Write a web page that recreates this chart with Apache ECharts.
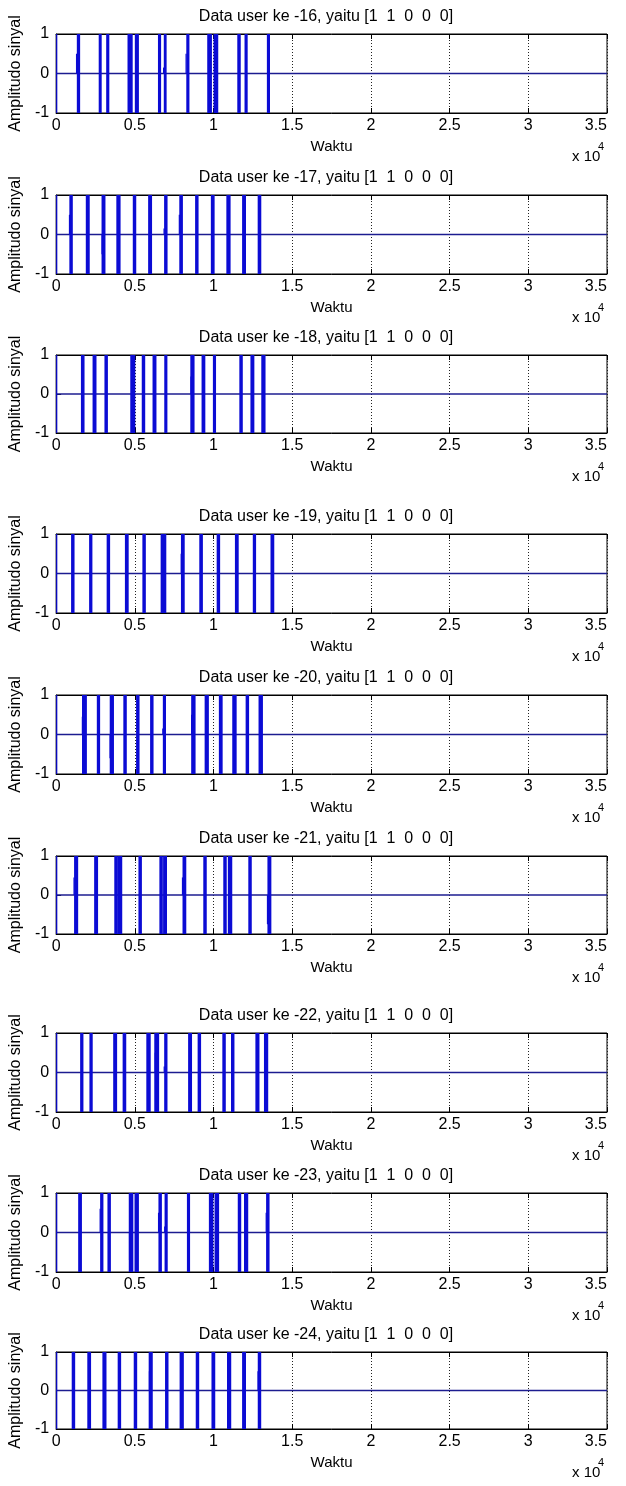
<!DOCTYPE html>
<html><head><meta charset="utf-8">
<script src="https://cdn.jsdelivr.net/npm/echarts@6/dist/echarts.min.js"></script>
<style>html,body{margin:0;padding:0;background:#fff}#c{width:626px;height:1486px}</style>
</head><body><div id="c"></div>
<script>
// ---- data ----
const userIds = [16, 17, 18, 19, 20, 21, 22, 23, 24];
const userBits = '[1  1  0  0  0]';
const xMin = 0, xMax = 35000, xStep = 5000, xExp = 4;
const yMin = -1, yMax = 1, yStep = 1;
const baseline = [[0, 0], [35000, 0]];

// bursts: [centre (Waktu), duration]
const burst16 = [[30,60],[1420,210],[2800,190],[3280,200],[4700,330],[5130,260],[6570,200],[6930,180],[8370,200],[9750,300],[10150,300],[11620,220],[12070,200],[13490,200]];
const burst17 = [[30,60],[950,220],[2010,250],[3010,250],[3960,270],[4980,220],[5970,250],[6970,220],[7940,230],[8940,220],[9950,240],[10950,270],[11940,250],[12920,230]];
const burst18 = [[30,60],[1690,230],[2440,250],[3180,220],[4870,320],[5550,220],[6250,250],[6970,200],[8660,270],[9360,240],[10060,200],[11750,220],[12470,250],[13170,270]];
const burst19 = [[30,60],[1060,220],[2200,210],[3320,220],[4490,240],[5590,220],[6820,360],[8050,240],[9210,230],[10310,220],[11480,240],[12600,210],[13740,240]];
const burst20 = [[30,60],[1800,310],[2690,210],[3540,270],[4380,220],[5190,220],[6080,220],[6880,200],[8720,280],[9570,270],[10460,240],[11330,280],[12150,220],[13000,280]];
const burst21 = [[30,60],[1270,260],[2540,250],[3810,230],[4065,270],[5340,220],[6670,220],[6920,250],[8150,240],[9460,220],[10730,220],[11050,280],[12320,220],[13550,250]];
const burst22 = [[30,60],[1630,210],[2220,210],[3750,250],[4340,230],[5870,280],[6390,310],[6970,210],[8510,250],[9100,220],[10670,220],[11220,220],[12790,260],[13340,270]];
const burst23 = [[30,60],[1520,240],[2900,210],[3370,220],[4760,290],[5120,280],[6610,220],[6990,200],[8410,200],[9850,290],[10210,290],[11650,220],[12070,270],[13450,220]];
const burst24 = [[30,60],[1100,220],[2100,240],[3070,260],[4020,220],[5040,220],[6010,260],[7030,220],[7980,270],[8980,220],[9990,240],[10990,270],[11940,250],[12920,220]];

// partial swings: [centre, duration, low, high]
const part16 = [[1290,60,0,0.5],[6830,80,0,0.15],[8250,60,0,0.5]];
const part17 = [[840,60,0,0.5],[2910,60,-0.5,0],[6860,80,0,0.15],[7820,60,0,0.5]];
const part18 = [[8560,60,0,0.45]];
const part19 = [[7940,60,0,0.5]];
const part20 = [[1660,60,0,0.45],[3420,60,-0.6,0],[6780,80,0,0.15],[8600,60,0,0.5]];
const part21 = [[1130,60,0,0.45],[8020,60,0,0.45],[13420,60,-0.75,0]];
const part22 = [[6290,60,0,0.5],[6870,80,0,0.15],[13240,60,0,0.5]];
const part23 = [[2790,60,0,0.6],[4660,70,-0.7,0],[6500,60,0,0.5],[6900,80,0,0.15],[13340,60,0,0.5]];
const part24 = [[5920,60,0,0.5],[12820,60,0,0.5]];

const bursts = [burst16, burst17, burst18, burst19, burst20, burst21, burst22, burst23, burst24];
const partials = [part16, part17, part18, part19, part20, part21, part22, part23, part24];

// ---- layout ----
const tops = [34, 195, 355, 534, 695, 856, 1033, 1193, 1352];
const heights = [79, 79, 78, 79, 79, 78, 79, 79, 77];
const gridLeft = 56, gridWidth = 551;
const FONT = '"Liberation Sans", Arial, Helvetica, sans-serif';
const barColor = '#0b0bd4';
const lineColor = '#1c1c90';

const grids = [], xAxes = [], yAxes = [], series = [], graphics = [];
userIds.forEach((id, i) => {
  grids.push({left: gridLeft, width: gridWidth, top: tops[i], height: heights[i],
    show: true, borderColor: '#000', borderWidth: 1, backgroundColor: '#fff'});
  xAxes.push({gridIndex: i, type: 'value', min: xMin, max: xMax, interval: xStep, position: 'bottom',
    axisLine: {show: true, onZero: false, lineStyle: {color: '#000', width: 1}},
    axisTick: {show: true, inside: true, length: 5, lineStyle: {color: '#000'}},
    axisLabel: {show: true, margin: 5, fontSize: 16, color: '#000', fontFamily: FONT,
      alignMaxLabel: 'right',
      formatter: v => String(v / Math.pow(10, xExp))},
    splitLine: {show: true, lineStyle: {type: [1, 2], color: '#222', width: 1}},
    name: 'Waktu', nameLocation: 'middle', nameGap: 26,
    nameTextStyle: {fontSize: 15, color: '#000', fontFamily: FONT}});
  xAxes.push({gridIndex: i, type: 'value', min: xMin, max: xMax, interval: xStep, position: 'top',
    axisLine: {show: true, onZero: false, lineStyle: {color: '#000', width: 1}},
    axisTick: {show: true, inside: true, length: 5, lineStyle: {color: '#000'}},
    axisLabel: {show: false}, splitLine: {show: false}});
  yAxes.push({gridIndex: i, type: 'value', min: yMin, max: yMax, interval: yStep,
    axisLine: {show: true, onZero: false, lineStyle: {color: '#000', width: 1}},
    axisTick: {show: true, inside: true, length: 5, lineStyle: {color: '#000'}},
    axisLabel: {margin: 7, fontSize: 16, color: '#000', fontFamily: FONT},
    splitLine: {show: false},
    name: 'Amplitudo sinyal', nameLocation: 'middle', nameGap: 28, nameRotate: 90,
    nameTextStyle: {fontSize: 16, color: '#000', fontFamily: FONT}});

  const segs = bursts[i].map(b => [b[0] - b[1] / 2, b[0] + b[1] / 2, -1, 1])
    .concat(partials[i].map(p => [p[0] - p[1] / 2, p[0] + p[1] / 2, p[2], p[3]]));

  series.push({type: 'line', xAxisIndex: 2 * i, yAxisIndex: i, data: baseline,
    showSymbol: false, silent: true, lineStyle: {color: lineColor, width: 1.3}, z: 3});
  series.push({type: 'custom', xAxisIndex: 2 * i, yAxisIndex: i, data: segs, silent: true, z: 4,
    encode: {x: [0, 1], y: [2, 3]},
    renderItem: (params, api) => {
      const p0 = api.coord([api.value(0), api.value(3)]);
      const p1 = api.coord([api.value(1), api.value(2)]);
      return {type: 'rect',
        shape: {x: p0[0], y: p0[1], width: Math.max(p1[0] - p0[0], 1.2), height: p1[1] - p0[1]},
        style: {fill: barColor}};
    }});

  const bottom = tops[i] + heights[i];
  graphics.push({type: 'text', x: 326, y: tops[i] - 17.5,
    style: {text: 'Data user ke -' + id + ', yaitu ' + userBits, fontSize: 16, fontFamily: FONT, fill: '#000',
      align: 'center', verticalAlign: 'middle', textAlign: 'center', textVerticalAlign: 'middle'}});
  graphics.push({type: 'text', x: 572, y: bottom + 44,
    style: {text: 'x 10', fontSize: 15, fontFamily: FONT, fill: '#000',
      align: 'left', verticalAlign: 'middle', textAlign: 'left', textVerticalAlign: 'middle'}});
  graphics.push({type: 'text', x: 598, y: bottom + 34,
    style: {text: String(xExp), fontSize: 11, fontFamily: FONT, fill: '#000',
      align: 'left', verticalAlign: 'middle', textAlign: 'left', textVerticalAlign: 'middle'}});
});

const chart = echarts.init(document.getElementById('c'), null, {renderer: 'canvas'});
chart.setOption({
  animation: false,
  backgroundColor: '#fff',
  grid: grids, xAxis: xAxes, yAxis: yAxes, series: series, graphic: graphics
});
</script></body></html>
